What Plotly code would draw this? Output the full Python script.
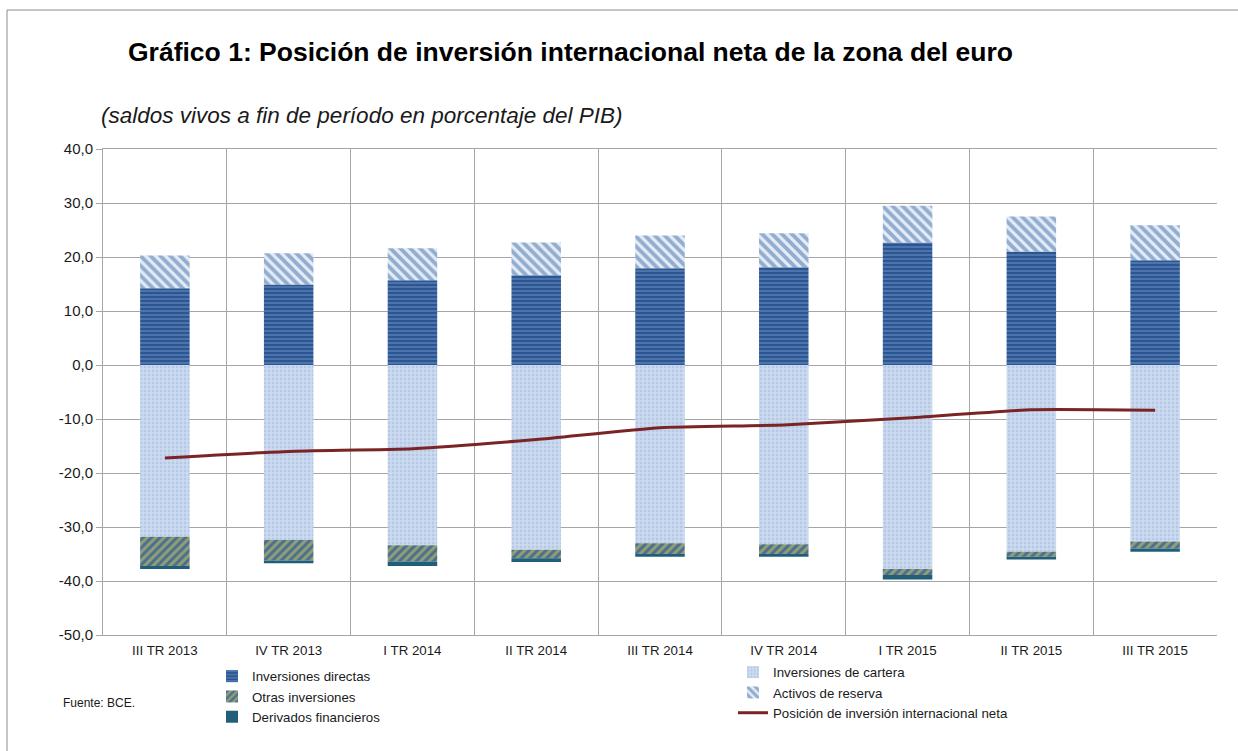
import plotly.graph_objects as go

categories = ["III TR 2013", "IV TR 2013", "I TR 2014", "II TR 2014", "III TR 2014",
              "IV TR 2014", "I TR 2015", "II TR 2015", "III TR 2015"]
inv_directas = [14.2, 14.9, 15.7, 16.6, 17.9, 18.1, 22.7, 21.0, 19.4]
activos_reserva = [6.1, 5.8, 5.9, 6.1, 6.1, 6.3, 6.8, 6.5, 6.5]
inv_cartera = [-31.8, -32.4, -33.4, -34.2, -33.0, -33.2, -37.8, -34.6, -32.7]
otras_inv = [-5.4, -3.8, -3.0, -1.6, -2.0, -1.8, -1.1, -0.9, -1.3]
derivados = [-0.6, -0.5, -0.8, -0.7, -0.5, -0.5, -0.8, -0.5, -0.6]
pii_neta = [-17.2, -16.0, -15.5, -13.8, -11.6, -11.1, -9.8, -8.3, -8.4]
y_ticks = [40, 30, 20, 10, 0, -10, -20, -30, -40, -50]

W, H = 1238, 751
L, R, T, B = 103, 21, 149, 116
pw, ph = W - L - R, H - T - B

def px(x):
    return (x - L) / pw

def py(y):
    return (H - B - y) / ph

font = "Liberation Sans, Arial, sans-serif"
tick_text = [f"{v:.1f}".replace(".", ",") for v in y_ticks]

fig = go.Figure()
fig.add_trace(go.Bar(
    x=categories, y=inv_directas, name="Inversiones directas", width=0.4,
    marker=dict(color="#2B5694", line=dict(width=0),
                pattern=dict(shape="-", fgcolor="#9FB9DE", size=4, solidity=0.3)),
    legend="legend", legendrank=1))
fig.add_trace(go.Bar(
    x=categories, y=activos_reserva, name="Activos de reserva", width=0.4,
    marker=dict(color="#E4ECF6", line=dict(width=0),
                pattern=dict(shape="\\", fgcolor="#3F6DA8", size=7, solidity=0.55)),
    legend="legend2", legendrank=2))
fig.add_trace(go.Bar(
    x=categories, y=inv_cartera, name="Inversiones de cartera", width=0.4,
    marker=dict(color="#CCDBEF", line=dict(width=0),
                pattern=dict(shape=".", fgcolor="#9DB8DE", size=4, solidity=0.4)),
    legend="legend2", legendrank=1))
fig.add_trace(go.Bar(
    x=categories, y=otras_inv, name="Otras inversiones", width=0.4,
    marker=dict(color="#4C6F8F", line=dict(width=0),
                pattern=dict(shape="/", fgcolor="#D4CF5A", size=6, solidity=0.5)),
    legend="legend", legendrank=2))
fig.add_trace(go.Bar(
    x=categories, y=derivados, name="Derivados financieros", width=0.4,
    marker=dict(color="#215E79", line=dict(width=0)),
    legend="legend", legendrank=3))
fig.add_trace(go.Scatter(
    x=categories, y=pii_neta, name="Posición de inversión internacional neta",
    mode="lines", line=dict(color="#7B2426", width=3, shape="spline", smoothing=0.5),
    legend="legend2", legendrank=3))

fig.update_layout(
    width=W, height=H,
    margin=dict(l=L, r=R, t=T, b=B, autoexpand=False),
    barmode="relative",
    paper_bgcolor="white", plot_bgcolor="white",
    separators=",.",
    font=dict(family=font, color="#1a1a1a", size=13),
    legend=dict(x=px(212), y=py(661), xanchor="left", yanchor="top",
                orientation="v", font=dict(size=13.3, family=font),
                tracegroupgap=0, bgcolor="rgba(0,0,0,0)", traceorder="normal"),
    legend2=dict(x=px(733), y=py(657), xanchor="left", yanchor="top",
                 orientation="v", font=dict(size=13.3, family=font),
                 tracegroupgap=0, bgcolor="rgba(0,0,0,0)", traceorder="normal"),
    xaxis=dict(type="category", tickson="boundaries", showgrid=True,
               gridcolor="#A6A6A6", gridwidth=1, showline=True, linecolor="#A6A6A6",
               mirror=True, ticks="", tickfont=dict(size=13.3, family=font, color="#1a1a1a"),
               ticklabelstandoff=3),
    yaxis=dict(range=[-50, 40], tickvals=y_ticks, ticktext=tick_text, showgrid=True,
               gridcolor="#A6A6A6", gridwidth=1, zeroline=False, showline=True,
               linecolor="#A6A6A6", ticks="outside", ticklen=6, tickcolor="#A6A6A6",
               tickfont=dict(size=15, family=font, color="#1a1a1a")),
    showlegend=True,
)

fig.add_annotation(text="<b>Gráfico 1: Posición de inversión internacional neta de la zona del euro</b>",
                   xref="paper", yref="paper", x=px(126), y=py(52), xanchor="left", yanchor="middle",
                   showarrow=False, font=dict(size=26.5, family=font, color="#000000"))
fig.add_annotation(text="<i>(saldos vivos a fin de período en porcentaje del PIB)</i>",
                   xref="paper", yref="paper", x=px(99), y=py(115), xanchor="left", yanchor="middle",
                   showarrow=False, font=dict(size=22.5, family=font, color="#1a1a1a"))
fig.add_annotation(text="Fuente: BCE.",
                   xref="paper", yref="paper", x=px(61), y=py(703), xanchor="left", yanchor="middle",
                   showarrow=False, font=dict(size=12, family=font, color="#1a1a1a"))
fig.add_shape(type="rect", xref="paper", yref="paper",
              x0=px(7), x1=px(1250), y0=py(770), y1=py(10),
              line=dict(color="#8C8C8C", width=1), fillcolor="rgba(0,0,0,0)", layer="below")

fig.write_html("out.html", config={"displayModeBar": False},
               post_script="document.body.style.margin='0';document.body.style.overflow='hidden';")
